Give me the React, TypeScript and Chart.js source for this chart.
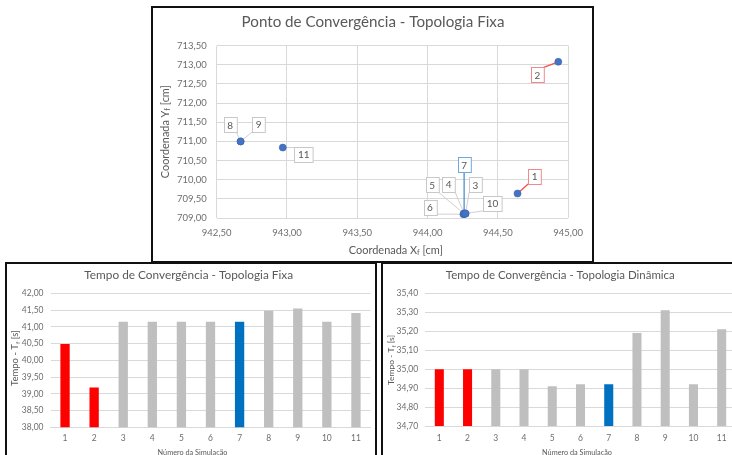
import React, { useEffect, useRef } from "react";
import { Chart, registerables } from "chart.js";

Chart.register(...registerables);

// ---------------- DATA ----------------
const simulationLabels = ["1", "2", "3", "4", "5", "6", "7", "8", "9", "10", "11"];

// Ponto de convergência (scatter)
const coordX = [944.64, 944.93, 944.27, 944.26, 944.26, 944.255, 944.26, 942.67, 942.67, 944.27, 942.97];
const coordY = [709.64, 713.08, 709.11, 709.12, 709.11, 709.10, 709.11, 711.0, 711.0, 709.12, 710.84];
const scatterXAxis = [942.5, 945.0, 0.5]; // min, max, step
const scatterYAxis = [709.0, 713.5, 0.5];

// Tempo de convergência - topologia fixa
const tempoFixa = [40.49, 39.19, 41.15, 41.15, 41.15, 41.15, 41.15, 41.48, 41.55, 41.15, 41.41];
const fixaYAxis = [38.0, 42.0, 0.5];

// Tempo de convergência - topologia dinâmica
const tempoDinamica = [35.0, 35.0, 35.0, 35.0, 34.91, 34.92, 34.92, 35.19, 35.31, 34.92, 35.21];
const dinamicaYAxis = [34.7, 35.4, 0.1];

// ---------------- STYLE ----------------
const FONT = "Lato, 'Open Sans', sans-serif";
const TEXT = "#595959";
const TICK = "#6E6E6E";
const GRID = "#D9D9D9";
const RED = "#FF0000";
const BLUE = "#0070C0";
const GRAY = "#BFBFBF";
const barColors = [RED, RED, GRAY, GRAY, GRAY, GRAY, BLUE, GRAY, GRAY, GRAY, GRAY];

// label offsets (px) relative to each scatter point, and label colours
const labelOffsets: [number, number][] = [
  [17, -17], [-21, 13], [10, -29], [-15.5, -29], [-32, -29], [-33.5, -7],
  [0, -49], [-10.5, -16.5], [18, -17], [27, -10], [21, 6.5],
];
const labelBorder = (i: number) => (i < 2 ? "#F08A8A" : i === 6 ? "#6FA8DC" : "#C8C8C8");
const leaderColor = (i: number) => (i < 2 ? "#F05050" : i === 6 ? "#4A90D0" : "#D0D0D0");

const fmt = (v: number | string) => Number(v).toFixed(2).replace(".", ",");

type Part = { t: string; sub?: boolean };
type TextSpec = { parts: Part[]; cx: number; cy: number; width: number; rotate?: boolean };

function drawRich(ctx: CanvasRenderingContext2D, spec: TextSpec) {
  const base = 10;
  const subRatio = 0.68;
  ctx.save();
  const measure = (size: number) =>
    spec.parts.reduce((acc, p) => {
      ctx.font = `${p.sub ? size * subRatio : size}px ${FONT}`;
      return acc + ctx.measureText(p.t).width;
    }, 0);
  const size = (base * spec.width) / measure(base);
  const total = measure(size);
  ctx.translate(spec.cx, spec.cy);
  if (spec.rotate) ctx.rotate(-Math.PI / 2);
  ctx.fillStyle = TEXT;
  ctx.textBaseline = "middle";
  ctx.textAlign = "left";
  let x = -total / 2;
  for (const p of spec.parts) {
    const s = p.sub ? size * subRatio : size;
    ctx.font = `${s}px ${FONT}`;
    ctx.fillText(p.t, x, p.sub ? size * 0.28 : 0);
    x += ctx.measureText(p.t).width;
  }
  ctx.restore();
}

function decor(texts: TextSpec[]) {
  return {
    id: "decor",
    beforeDraw(chart: any) {
      const { ctx, width, height } = chart;
      ctx.save();
      ctx.fillStyle = "#FFFFFF";
      ctx.fillRect(0, 0, width, height);
      ctx.restore();
    },
    afterDraw(chart: any) {
      texts.forEach((t) => drawRich(chart.ctx, t));
    },
  };
}

const pointLabels = {
  id: "pointLabels",
  beforeDatasetsDraw(chart: any) {
    const meta = chart.getDatasetMeta(0);
    const ctx: CanvasRenderingContext2D = chart.ctx;
    ctx.save();
    ctx.font = `10px ${FONT}`;
    meta.data.forEach((pt: any, i: number) => {
      const x = pt.x, y = pt.y;
      const [dx, dy] = labelOffsets[i];
      const w = ctx.measureText(simulationLabels[i]).width + 7;
      const h = 15;
      const l = x + dx - w / 2, t = y + dy - h / 2;
      const nx = Math.max(l, Math.min(x, l + w));
      const ny = Math.max(t, Math.min(y, t + h));
      ctx.strokeStyle = leaderColor(i);
      ctx.lineWidth = i < 2 || i === 6 ? 1.3 : 1;
      ctx.beginPath();
      ctx.moveTo(x, y);
      ctx.lineTo(nx, ny);
      ctx.stroke();
    });
    ctx.restore();
  },
  afterDatasetsDraw(chart: any) {
    const meta = chart.getDatasetMeta(0);
    const ctx: CanvasRenderingContext2D = chart.ctx;
    ctx.save();
    ctx.font = `10px ${FONT}`;
    ctx.textAlign = "center";
    ctx.textBaseline = "middle";
    meta.data.forEach((pt: any, i: number) => {
      const [dx, dy] = labelOffsets[i];
      const cx = pt.x + dx, cy = pt.y + dy;
      const w = ctx.measureText(simulationLabels[i]).width + 7;
      const h = 15;
      ctx.fillStyle = "#FFFFFF";
      ctx.fillRect(Math.round(cx - w / 2) + 0.5, Math.round(cy - h / 2) + 0.5, w, h);
      ctx.strokeStyle = labelBorder(i);
      ctx.lineWidth = 1;
      ctx.strokeRect(Math.round(cx - w / 2) + 0.5, Math.round(cy - h / 2) + 0.5, w, h);
      ctx.fillStyle = TEXT;
      ctx.fillText(simulationLabels[i], cx, cy + 0.5);
    });
    ctx.restore();
  },
};

function scatterConfig(): any {
  return {
    type: "scatter",
    data: {
      datasets: [
        {
          data: coordX.map((x, i) => ({ x, y: coordY[i] })),
          pointRadius: 3.5,
          backgroundColor: "#4472C4",
          borderColor: "#3A63AE",
          borderWidth: 0.6,
        },
      ],
    },
    options: {
      animation: false,
      responsive: false,
      devicePixelRatio: 1,
      layout: { padding: { top: 37.7, right: 17, left: 0, bottom: 0 } },
      plugins: { legend: { display: false }, tooltip: { enabled: false } },
      scales: {
        x: {
          type: "linear",
          min: scatterXAxis[0],
          max: scatterXAxis[1],
          ticks: { stepSize: scatterXAxis[2], callback: fmt, color: TICK, font: { family: FONT, size: 9.5 }, padding: 9, maxRotation: 0, autoSkip: false },
          grid: { color: GRID, drawTicks: false },
          border: { display: false },
          afterFit: (s: any) => { s.height = 44; },
        },
        y: {
          type: "linear",
          min: scatterYAxis[0],
          max: scatterYAxis[1],
          ticks: { stepSize: scatterYAxis[2], callback: fmt, color: TICK, font: { family: FONT, size: 9.5 }, padding: 10, autoSkip: false },
          grid: { color: GRID, drawTicks: false },
          border: { display: false },
          afterFit: (s: any) => { s.width = 63.7; },
        },
      },
    },
    plugins: [
      decor([
        { parts: [{ t: "Ponto de Convergência - Topologia Fixa" }], cx: 220, cy: 13.7, width: 263 },
        { parts: [{ t: "Coordenada X" }, { t: "f", sub: true }, { t: " [cm]" }], cx: 242.8, cy: 242, width: 94 },
        { parts: [{ t: "Coordenada Y" }, { t: "f", sub: true }, { t: " [cm]" }], cx: 12, cy: 123.7, width: 93, rotate: true },
      ]),
      pointLabels,
    ],
  };
}

function barConfig(values: number[], axis: number[], g: any, title: string, tw: number, tcx: number, ytw: number, ytcx: number, ytcy: number, xtcx: number): any {
  return {
    type: "bar",
    data: {
      labels: simulationLabels,
      datasets: [
        {
          data: values,
          backgroundColor: barColors,
          borderWidth: 0,
          categoryPercentage: 1,
          barPercentage: 0.32,
        },
      ],
    },
    options: {
      animation: false,
      responsive: false,
      devicePixelRatio: 1,
      layout: { padding: { top: g.top, right: g.right, left: 0, bottom: 0 } },
      plugins: { legend: { display: false }, tooltip: { enabled: false } },
      scales: {
        x: {
          ticks: { color: TICK, font: { family: FONT, size: 8.5 }, padding: g.xPad, maxRotation: 0, autoSkip: false },
          grid: { display: false, drawTicks: false },
          border: { display: true, color: GRID, width: 1 },
          afterFit: (s: any) => { s.height = g.xh; },
        },
        y: {
          min: axis[0],
          max: axis[1],
          ticks: { stepSize: axis[2], callback: fmt, color: TICK, font: { family: FONT, size: 8.5 }, padding: 7, autoSkip: false },
          grid: { color: GRID, drawTicks: false },
          border: { display: false },
          afterFit: (s: any) => { s.width = g.yw; },
        },
      },
    },
    plugins: [
      decor([
        { parts: [{ t: title }], cx: tcx, cy: 11, width: tw },
        { parts: [{ t: "Tempo - T" }, { t: "f", sub: true }, { t: " [s]" }], cx: ytcx, cy: ytcy, width: ytw, rotate: true },
        { parts: [{ t: "Número da Simulação" }], cx: xtcx, cy: 188.7, width: 70 },
      ]),
    ],
  };
}

function ChartCanvas({ make, left, top, width, height }: any) {
  const ref = useRef<HTMLCanvasElement>(null);
  useEffect(() => {
    const chart = new Chart(ref.current as HTMLCanvasElement, make());
    return () => chart.destroy();
  }, []);
  return (
    <canvas
      ref={ref}
      width={width}
      height={height}
      style={{ position: "absolute", left, top, width, height, display: "block" }}
    />
  );
}

const boxStyle = (left: number, top: number, width: number, height: number): React.CSSProperties => ({
  position: "absolute",
  left,
  top,
  width,
  height,
  boxSizing: "border-box",
  border: "2px solid #111111",
  pointerEvents: "none",
});

export default function App() {
  return (
    <div style={{ position: "absolute", left: 0, top: 0, width: 732, height: 455, overflow: "hidden", background: "#FFFFFF" }}>
      <ChartCanvas make={scatterConfig} left={153} top={8} width={439} height={254} />
      <ChartCanvas
        make={() =>
          barConfig(tempoFixa, fixaYAxis, { top: 29.3, right: 4.5, xh: 36.7, yw: 43.5, xPad: 6 },
            "Tempo de Convergência - Topologia Fixa", 209, 181.7, 56, 8, 94, 185.5)
        }
        left={7}
        top={264}
        width={368}
        height={200}
      />
      <ChartCanvas
        make={() =>
          barConfig(tempoDinamica, dinamicaYAxis, { top: 29.3, right: 7.2, xh: 38, yw: 42.2, xPad: 7 },
            "Tempo de Convergência - Topologia Dinâmica", 229, 177.3, 50, 8.7, 96, 194)
        }
        left={383}
        top={264}
        width={360}
        height={200}
      />
      <div style={boxStyle(151, 6, 443, 257)} />
      <div style={boxStyle(5, 262, 372, 210)} />
      <div style={boxStyle(381, 262, 380, 210)} />
    </div>
  );
}
